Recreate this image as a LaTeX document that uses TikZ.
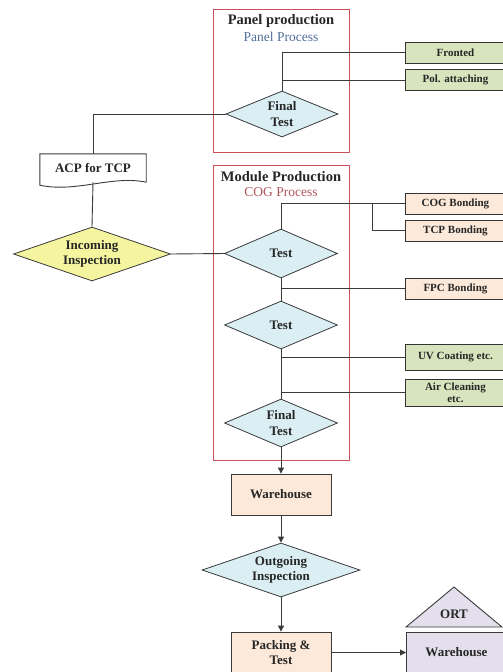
\documentclass[tikz,border=0pt]{standalone}
\usepackage{fontspec}
\setmainfont{Liberation Serif}
\usetikzlibrary{arrows.meta,positioning,shapes.geometric,backgrounds}
\definecolor{frameRed}{HTML}{C9515A}
\definecolor{lineGray}{HTML}{3A3A3A}
\definecolor{testBlue}{HTML}{DAEEF3}
\definecolor{inYellow}{HTML}{F5F5A0}
\definecolor{subGreen}{HTML}{D7E4BD}
\definecolor{whPeach}{HTML}{FDE9D9}
\definecolor{ortLilac}{HTML}{E4DFEC}
\definecolor{panelBlue}{HTML}{4F6D9A}
\definecolor{cogRed}{HTML}{B2545C}

\begin{document}
\begin{tikzpicture}[x=1pt,y=-1pt,
  lbl/.style={font=\fontsize{13}{15.5}\selectfont\bfseries,text=black!85},
  ttl/.style={font=\fontsize{14.5}{16}\selectfont\bfseries,text=black!85},
  sub/.style={font=\fontsize{13.5}{15}\selectfont},
  frame/.style={draw=frameRed,line width=0.8pt,minimum width=136pt,inner sep=0pt},
  test/.style={lbl,diamond,aspect=2.4,draw=lineGray,line width=0.8pt,fill=testBlue,minimum width=113pt,minimum height=48pt,inner sep=0pt,align=center},
  bigtest/.style={test,aspect=2.9,minimum width=157pt,minimum height=54pt},
  sidebox/.style={font=\fontsize{11}{12}\selectfont\bfseries,text=black!85,draw=black!80,line width=0.9pt,anchor=west,minimum width=100pt,minimum height=21pt,inner sep=0pt,align=center},
  whbox/.style={lbl,draw=lineGray,line width=0.8pt,fill=whPeach,minimum width=100pt,inner sep=0pt,align=center},
  link/.style={draw=lineGray,line width=0.9pt},
  arr/.style={link,-{Triangle[length=6pt,width=6pt]}}]
  \useasboundingbox (0,0) rectangle (503,672);
  \clip (0,0) rectangle (503,672);

  % process frames
  \node[frame,minimum height=143pt] (panelbox) at (281,80.5) {};
  \node[frame,minimum height=295pt] (modulebox) at (281,312.5) {};
  \node[ttl] (paneltitle) at (281,21) {Panel production};
  \node[sub,text=panelBlue] (panelsub) at (281,37) {Panel Process};
  \node[ttl] (moduletitle) at (281,177) {Module Production};
  \node[sub,text=cogRed] (modulesub) at (281,192) {COG Process};

  % panel production
  \node[test,minimum width=112pt,minimum height=46pt] (final1) at (282,114) {Final\\Test};
  \node[sidebox,fill=subGreen] (fronted) at (405,52.5) {Fronted};
  \node[sidebox,fill=subGreen] (pol) at (405,80) {Pol. attaching};
  \draw[link] (final1.north) |- (fronted.west);
  \draw[link] (final1.north |- pol.west) -- (pol.west);

  % incoming material
  \node[lbl,minimum width=106pt,minimum height=28pt,inner sep=0pt] (acp) at (93,168) {ACP for TCP};
  \begin{scope}[on background layer]
    \draw[link,fill=white] (acp.north west) -- (acp.north east) -- (acp.south east)
      .. controls (112,175) and (76,193) .. ([yshift=-3pt]acp.south west) -- cycle;
  \end{scope}
  \node[bigtest,fill=inYellow] (incoming) at (92,254) {Incoming\\Inspection};
  \draw[link] (final1.west) -| (acp.north);
  \draw[link] (acp.south) -- (incoming.north);

  % module production
  \node[test,minimum height=49pt] (test1) at (281,253.5) {Test};
  \node[test] (test2) at (281,325) {Test};
  \node[test] (final2) at (281,423) {Final\\Test};
  \node[sidebox,fill=whPeach] (cog) at (405,203.5) {COG Bonding};
  \node[sidebox,fill=whPeach] (tcp) at (405,230.5) {TCP Bonding};
  \node[sidebox,fill=whPeach] (fpc) at (405,288.5) {FPC Bonding};
  \node[sidebox,fill=subGreen,minimum height=26pt] (uv) at (405,357) {UV Coating etc.};
  \node[sidebox,fill=subGreen,minimum height=27pt] (air) at (405,392.5) {Air Cleaning\\etc.};
  \coordinate (split) at (372,203.5);
  \draw[link] (incoming.east) -- (test1.west);
  \draw[link] (test1.north) |- (cog.west);
  \draw[link] (split) |- (tcp.west);
  \draw[link] (test1.south) -- (test2.north);
  \draw[link] (test1.south |- fpc.west) -- (fpc.west);
  \draw[link] (test2.south) -- (final2.north);
  \draw[link] (test2.south |- uv.west) -- (uv.west);
  \draw[link] (test2.south |- air.west) -- (air.west);

  % shipping
  \node[whbox,minimum height=41pt] (wh1) at (281,494.5) {Warehouse};
  \node[bigtest,minimum width=158pt] (outgoing) at (281,570) {Outgoing\\Inspection};
  \node[whbox,minimum height=41pt] (pack) at (281,652.5) {Packing \&\\Test};
  \node[whbox,fill=ortLilac,anchor=west,minimum height=41pt] (wh2) at (406,652.5) {Warehouse};
  \draw[link,fill=ortLilac] (406,627) -- (454,587) -- (502,627) -- cycle;
  \node[lbl] (ort) at (454,614) {ORT};
  \draw[arr] (final2.south) -- (wh1.north);
  \draw[arr] (wh1.south) -- (outgoing.north);
  \draw[arr] (outgoing.south) -- (pack.north);
  \draw[arr] (pack.east) -- (wh2.west);
\end{tikzpicture}
\end{document}
